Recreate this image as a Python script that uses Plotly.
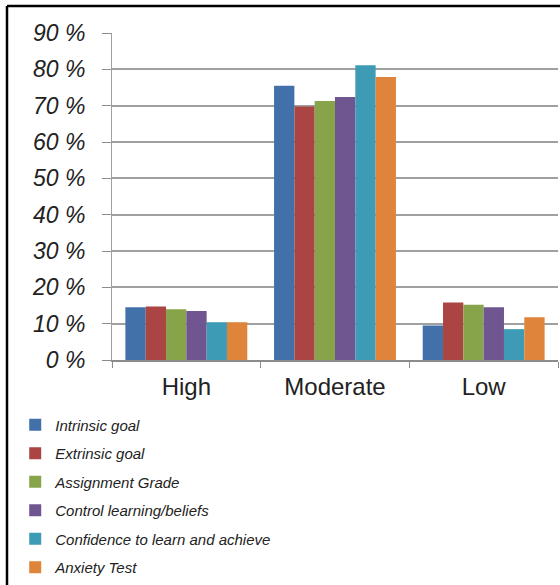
import plotly.graph_objects as go

categories = ["High", "Moderate", "Low"]
series_names = [
    "Intrinsic goal",
    "Extrinsic goal",
    "Assignment Grade",
    "Control learning/beliefs",
    "Confidence to learn and achieve",
    "Anxiety Test",
]
intrinsic = [14.5, 75.5, 9.5]
extrinsic = [14.7, 69.8, 15.8]
assignment = [14.0, 71.3, 15.2]
control = [13.5, 72.4, 14.5]
confidence = [10.4, 81.1, 8.5]
anxiety = [10.4, 77.9, 11.8]
series_values = [intrinsic, extrinsic, assignment, control, confidence, anxiety]
colors = ["#4270a8", "#aa4543", "#87a44b", "#6f5690", "#3e9bb5", "#de853b"]

tick_vals = [0, 10, 20, 30, 40, 50, 60, 70, 80, 90]
tick_text = ["0 %", "10 %", "20 %", "30 %", "40 %", "50 %", "60 %", "70 %", "80 %", "90 %"]

FONT = "Liberation Sans, Arial, sans-serif"

fig = go.Figure()
for name, vals, col in zip(series_names, series_values, colors):
    fig.add_trace(go.Bar(
        x=categories, y=vals, name=name, legendgroup=name,
        marker=dict(color=col, line=dict(width=0)),
    ))

fig.update_layout(
    width=560, height=585,
    margin=dict(l=112, r=2, t=33, b=225),
    paper_bgcolor="white", plot_bgcolor="white",
    barmode="group", bargap=0.18, bargroupgap=0,
    font=dict(family=FONT, color="#222"),
    legend=dict(
        x=-0.217, xanchor="left", y=-0.148, yanchor="top",
        orientation="v", tracegroupgap=6,
        font=dict(family=FONT, size=15, color="#222", style="italic"),
        bgcolor="rgba(0,0,0,0)",
    ),
    showlegend=True,
)
fig.update_xaxes(
    type="category",
    showline=True, linecolor="#8c8c8c", linewidth=2,
    ticks="outside", tickson="boundaries", ticklen=6, tickcolor="#8c8c8c",
    ticklabelstandoff=4,
    tickfont=dict(family=FONT, size=24, color="#222"),
    tickangle=0,
    showgrid=False,
)
fig.update_yaxes(
    range=[0, 90],
    tickvals=tick_vals, ticktext=tick_text,
    showline=True, linecolor="#a0a0a0", linewidth=1,
    ticks="outside", ticklen=9, tickcolor="#8c8c8c",
    ticklabelstandoff=12,
    tickfont=dict(family=FONT, size=23, color="#222", style="italic"),
    showgrid=True, gridcolor="#a0a0a0", gridwidth=1.5,
    zeroline=False,
)

# outer frame (top and left edges visible)
fig.add_shape(type="line", xref="paper", yref="paper",
              x0=(7 - 112) / 446, x1=1.01, y0=(360 - 6) / 327, y1=(360 - 6) / 327,
              line=dict(color="black", width=2.5))
fig.add_shape(type="line", xref="paper", yref="paper",
              x0=(7 - 112) / 446, x1=(7 - 112) / 446, y0=(360 - 6) / 327, y1=(360 - 590) / 327,
              line=dict(color="black", width=2.5))

fig.write_html("out.html")
